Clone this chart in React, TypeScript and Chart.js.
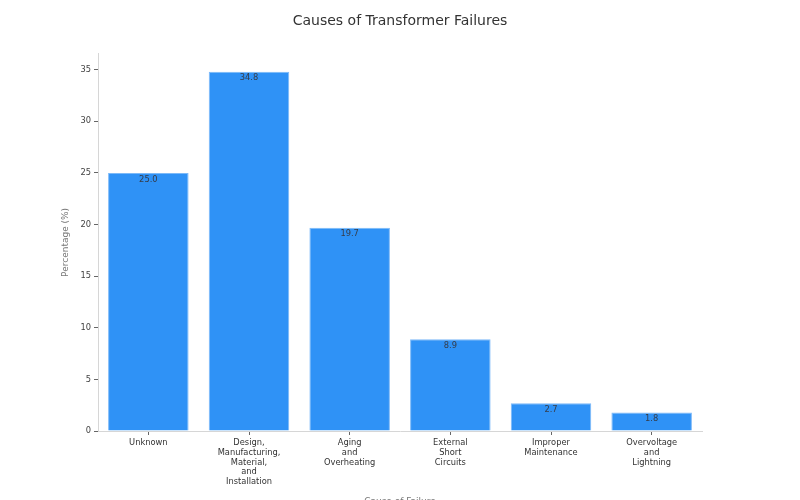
import { Chart, registerables } from "chart.js";
import { useRef, useEffect } from "react";

Chart.register(...registerables);

const categories = [
  ["Unknown"],
  ["Design,", "Manufacturing,", "Material,", "and", "Installation"],
  ["Aging", "and", "Overheating"],
  ["External", "Short", "Circuits"],
  ["Improper", "Maintenance"],
  ["Overvoltage", "and", "Lightning"],
];
const percentages = [25.0, 34.8, 19.7, 8.9, 2.7, 1.8];
const yTickStep = 5;
const yMax = 36.54;

const FONT = "'DejaVu Sans', sans-serif";

// writes each value just under the top of its bar
const valueLabels = {
  id: "valueLabels",
  afterDatasetsDraw(chart: Chart) {
    const ctx = chart.ctx;
    const meta = chart.getDatasetMeta(0);
    ctx.save();
    ctx.font = `8.3px ${FONT}`;
    ctx.fillStyle = "#363c48";
    ctx.textAlign = "center";
    ctx.textBaseline = "middle";
    meta.data.forEach((bar: any, i: number) => {
      ctx.fillText(percentages[i].toFixed(1), bar.x, bar.y + 6.5);
    });
    ctx.restore();
  },
};

export default function App() {
  const chartRef = useRef<HTMLCanvasElement>(null);

  useEffect(() => {
    document.body.style.margin = "0";
    if (!chartRef.current) return;
    const chart = new Chart(chartRef.current, {
      type: "bar",
      data: {
        labels: categories,
        datasets: [
          {
            label: "Percentage",
            data: percentages,
            backgroundColor: "#2f92f6",
            borderColor: "#7cb9f8",
            borderWidth: 1,
            barPercentage: 0.8,
            categoryPercentage: 1,
          },
        ],
      },
      options: {
        responsive: false,
        animation: false,
        layout: { padding: { left: 0, right: 98, top: 0, bottom: 0 } },
        plugins: {
          legend: { display: false },
          tooltip: { enabled: false },
          title: {
            display: true,
            text: "Causes of Transformer Failures",
            fullSize: false,
            color: "#333333",
            font: { family: FONT, size: 14, weight: "normal" },
            padding: { top: 13, bottom: 24 },
          },
        },
        scales: {
          x: {
            grid: {
              display: true,
              offset: false,
              drawOnChartArea: false,
              drawTicks: true,
              tickLength: 4,
              color: "#666666",
            },
            border: { display: true, color: "#d6d6d6" },
            ticks: {
              color: "#333333",
              padding: 3,
              maxRotation: 0,
              autoSkip: false,
              font: { family: FONT, size: 8.3, lineHeight: 1.18 },
            },
            title: {
              display: true,
              text: "Cause of Failure",
              color: "#777777",
              font: { family: FONT, size: 9 },
              padding: { top: 0, bottom: -7 },
            },
            afterFit(scale: any) {
              scale.height = 69;
            },
          },
          y: {
            min: 0,
            max: yMax,
            grid: {
              display: true,
              drawOnChartArea: false,
              drawTicks: true,
              tickLength: 4,
              color: "#666666",
            },
            border: { display: true, color: "#d6d6d6" },
            ticks: {
              stepSize: yTickStep,
              includeBounds: false,
              color: "#444444",
              padding: 3,
              font: { family: FONT, size: 8.3 },
            },
            title: {
              display: true,
              text: "Percentage (%)",
              color: "#777777",
              font: { family: FONT, size: 9 },
              padding: { top: 60.6, bottom: 0 },
            },
            afterFit(scale: any) {
              scale.width = 98;
            },
          },
        },
      },
      plugins: [valueLabels],
    });
    return () => chart.destroy();
  }, []);

  return (
    <div style={{ width: 800, height: 500 }}>
      <canvas ref={chartRef} width={800} height={500} style={{ display: "block" }} />
    </div>
  );
}
